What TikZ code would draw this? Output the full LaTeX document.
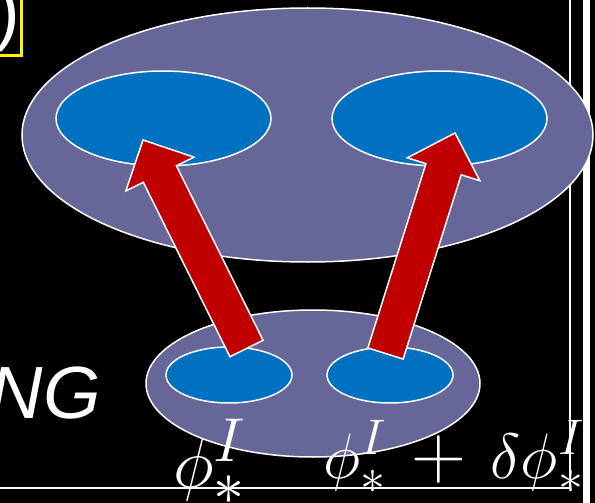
\documentclass[tikz,border=0pt]{standalone}
\usepackage{fix-cm}
\usepackage{fontspec}
\setsansfont{Liberation Sans}
\usetikzlibrary{shapes.geometric,calc}
\definecolor{setpurple}{HTML}{666699}
\definecolor{setblue}{HTML}{0070C0}
\definecolor{arrred}{HTML}{C00000}
\DeclareMathSizes{70}{70}{62}{50}
\DeclareMathSizes{64}{64}{50}{40}

% block arrow from #1 (tail) to #2 (tip)
\newcommand{\blockarrow}[2]{%
  \coordinate (neck) at ($(#2)!38pt!(#1)$);
  \draw[blockarr] ($(#1)!18.5pt!90:(#2)$) -- ($(neck)!18.5pt!90:(#2)$)
    -- ($(neck)!38pt!90:(#2)$) -- (#2) -- ($(neck)!38pt!-90:(#2)$)
    -- ($(neck)!18.5pt!-90:(#2)$) -- ($(#1)!18.5pt!-90:(#2)$) -- cycle;}
\newcommand{\bigplus}{\mskip3mu\mathbin{\mbox{\fontsize{76}{80}\selectfont$+$}}\mskip3mu}

\begin{document}
\begin{tikzpicture}[x=1pt, y=-1pt,
    outer/.style={ellipse, draw=white, line width=1.5pt, fill=setpurple, inner sep=0pt},
    inner/.style={ellipse, draw=white, line width=1.5pt, fill=setblue, inner sep=0pt},
    blockarr/.style={draw=white, line width=1.5pt, fill=arrred},
    lab/.style={text=white, inner sep=0pt}]
  \useasboundingbox (0,0) rectangle (595,503);
  \clip (0,0) rectangle (595,503);
  \fill[black] (0,0) rectangle (595,503);

  % frame lines
  \draw[white, line width=2pt] (570,-2) -- (570,488) -- (-2,488);
  \fill[white] (583,0) rectangle (590,503);
  \draw[yellow, line width=3pt] (-10,-10) rectangle (21,55.5);
  \node[lab, anchor=base east] (paren) at (20,37) {\fontsize{74}{80}\selectfont\sffamily )};

  % target space
  \node[outer, minimum width=571, minimum height=254] (big) at (307.5,135) {};
  \node[inner, minimum width=215, minimum height=95] (tl) at (163.5,118.5) {};
  \node[inner, minimum width=215, minimum height=95] (tr) at (439.5,118.5) {};

  % source space
  \node[outer, minimum width=334, minimum height=147] (small) at (313,383.5) {};
  \node[inner, minimum width=126, minimum height=56] (sl) at (229,375) {};
  \node[inner, minimum width=126, minimum height=56] (sr) at (390,375) {};

  % arrows
  \coordinate (lfrom) at (246.5,348.5);
  \coordinate (lto) at (143,140);
  \coordinate (rfrom) at (385.5,353.5);
  \coordinate (rto) at (455,133);
  \blockarrow{lfrom}{lto}
  \blockarrow{rfrom}{rto}

  \node[lab, anchor=base east] (ng) at (101,418) {\fontsize{74}{80}\selectfont\sffamily\itshape NG};
  \node[lab, anchor=base west] (phi) at (173,487) {\fontsize{70}{80}\selectfont$\phi^I_*$};
  \node[lab, anchor=base west] (phid) at (323,478) {\fontsize{64}{70}\selectfont$\phi^I_*\bigplus\delta\phi^I_*$};
\end{tikzpicture}
\end{document}
